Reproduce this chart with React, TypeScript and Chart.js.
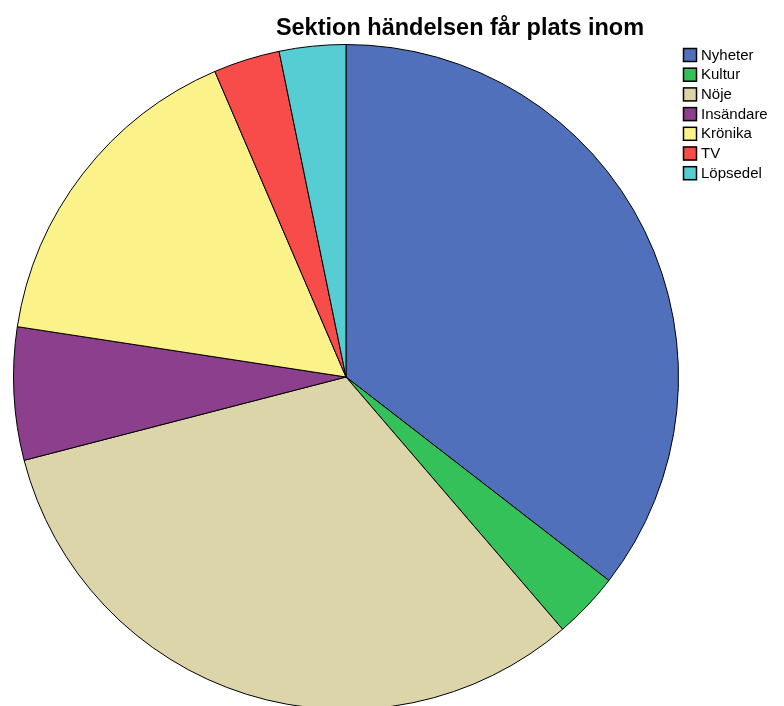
import React, { useEffect, useRef } from "react";
import { Chart, registerables } from "chart.js";
Chart.register(...registerables);

const categories = ["Nyheter", "Kultur", "Nöje", "Insändare", "Krönika", "TV", "Löpsedel"];
const counts = [11, 1, 10, 2, 5, 1, 1];
const colors = ["#5170BC", "#35C15A", "#DCD5A9", "#8B3F8C", "#FBF38A", "#F84C4A", "#56CDD3"];
const titleText = "Sektion händelsen får plats inom";

const overlay = {
  id: "overlay",
  afterDraw(chart: any) {
    const ctx = chart.ctx;
    ctx.save();
    ctx.fillStyle = "#000";
    ctx.font = "bold 23.5px 'Liberation Sans', Arial, sans-serif";
    ctx.textAlign = "center";
    ctx.textBaseline = "alphabetic";
    ctx.fillText(titleText, 460, 35);
    ctx.font = "15px 'Liberation Sans', Arial, sans-serif";
    ctx.textAlign = "left";
    ctx.textBaseline = "middle";
    categories.forEach((c, i) => {
      const y = 55 + i * 19.7;
      ctx.fillStyle = colors[i];
      ctx.fillRect(683, y - 7, 14, 14);
      ctx.strokeStyle = "#000";
      ctx.lineWidth = 1.5;
      ctx.strokeRect(683.5, y - 6.5, 13, 13);
      ctx.fillStyle = "#000";
      ctx.fillText(c, 701, y + 0.5);
    });
    ctx.restore();
  },
};

export default function App() {
  const ref = useRef<HTMLCanvasElement>(null);
  useEffect(() => {
    document.body.style.margin = "0";
    const chart = new Chart(ref.current!, {
      type: "pie",
      data: {
        labels: categories,
        datasets: [
          {
            data: counts,
            backgroundColor: colors,
            borderColor: "#000",
            borderWidth: 1,
          },
        ],
      },
      options: {
        responsive: false,
        animation: false,
        layout: { padding: { left: 13, top: 44, right: 105, bottom: 10 } },
        plugins: { legend: { display: false }, title: { display: false }, tooltip: { enabled: false } },
      },
      plugins: [overlay],
    });
    return () => chart.destroy();
  }, []);
  return (
    <div style={{ position: "fixed", left: 0, top: 0, width: 784, height: 706, overflow: "hidden", background: "#fff" }}>
      <canvas ref={ref} width={784} height={720} style={{ display: "block" }} />
    </div>
  );
}
